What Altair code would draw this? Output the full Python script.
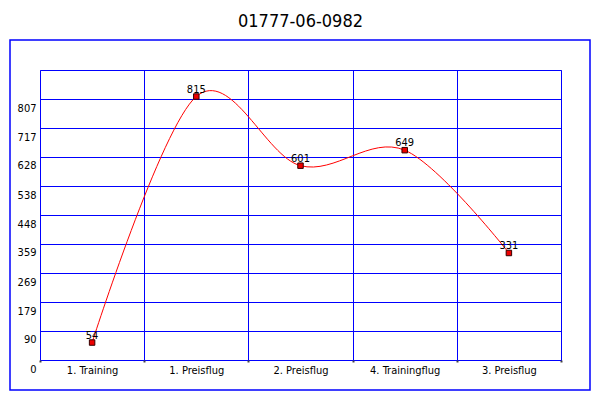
import altair as alt
import pandas as pd

categories = ["1. Training", "1. Preisflug", "2. Preisflug", "4. Trainingflug", "3. Preisflug"]
values = [54, 815, 601, 649, 331]
y_ticks = [0, 90, 179, 269, 359, 448, 538, 628, 717, 807]
y_max = 897
title_text = "01777-06-0982"

df = pd.DataFrame({"cat": categories, "val": values})
FONT = "DejaVu Sans Condensed, Liberation Sans"

x_enc = alt.X("cat:N", sort=None, title=None,
              scale=alt.Scale(paddingInner=0, paddingOuter=0),
              axis=alt.Axis(tickBand="extent", grid=True, gridColor="#0000ff", gridOpacity=1,
                            gridWidth=1, domain=False, ticks=True, tickSize=2, tickColor="#444444",
                            tickWidth=2, labelAngle=0, labelColor="black", labelFontSize=11,
                            labelFont=FONT, labelPadding=2))
y_enc = alt.Y("val:Q", title=None,
              scale=alt.Scale(domain=[0, y_max], nice=False, zero=True),
              axis=alt.Axis(values=y_ticks, grid=True, gridColor="#0000ff", gridOpacity=1,
                            gridWidth=1, domain=False, ticks=False, labelColor="black",
                            labelFontSize=11, labelFont=FONT, labelBaseline="top",
                            labelPadding=4, labelOffset=3, format="d"))

base = alt.Chart(df)
line = base.mark_line(color="#ff0000", strokeWidth=1, interpolate="cardinal").encode(x=x_enc, y=y_enc)
points = base.mark_point(shape="square", size=30, filled=True, fill="#ee0000",
                         stroke="#330000", strokeWidth=1, opacity=1).encode(x=x_enc, y=y_enc)
labels = base.mark_text(baseline="bottom", dy=-2, fontSize=11, font=FONT, color="black").encode(
    x=x_enc, y=y_enc, text="val:Q")

frame_data = alt.Data(values=[{"k": 1}])
frame = alt.Chart(frame_data).mark_rect(filled=False, stroke="#0000ff", strokeWidth=1.5).encode(
    x=alt.value(-30), x2=alt.value(550), y=alt.value(-30), y2=alt.value(320))
title = alt.Chart(frame_data).mark_text(fontSize=18, font=FONT, color="black", baseline="middle").encode(
    x=alt.value(260.5), y=alt.value(-48), text=alt.value(title_text))

chart = alt.layer(frame, title, line, points, labels).properties(
    width=521, height=290,
    background="white",
    autosize=alt.AutoSizeParams(type="none"),
    padding={"left": 32, "top": 62, "right": 31, "bottom": 32},
).configure_view(stroke="#0000ff", strokeWidth=1)

chart.save("out.html", embed_options={"renderer": "svg", "actions": False})
